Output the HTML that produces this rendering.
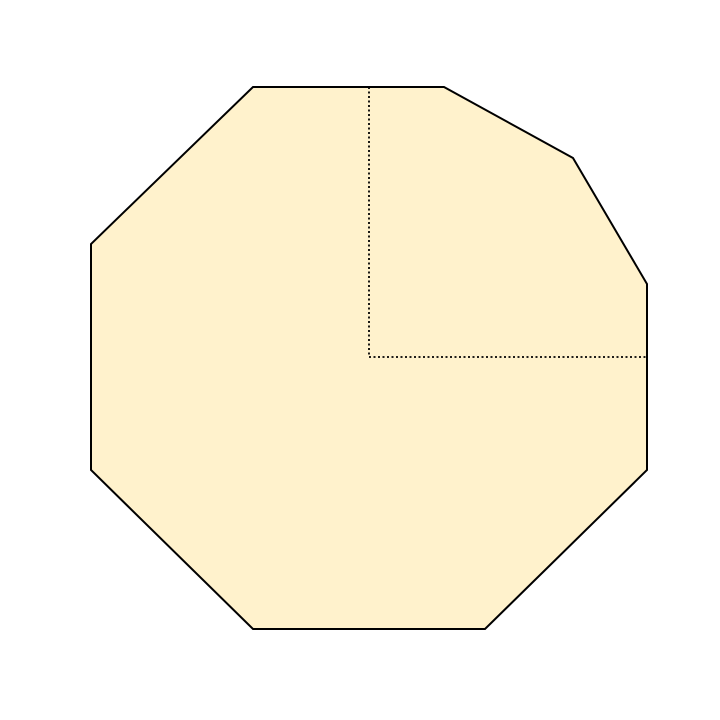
<!DOCTYPE html>
<html>
<head>
<meta charset="utf-8">
<style>
html,body{margin:0;padding:0;background:#fff;}
svg{display:block;}
</style>
</head>
<body>
<svg id="chart" width="720" height="720" viewBox="0 0 720 720"></svg>
<script>
// Shape vertices in data units (x right, y up), origin at the dotted-corner point
const vertexX = [-116, 75, 204, 278, 278, 116, -116, -278, -278];
const vertexY = [270, 270, 199, 73, -113, -272, -272, -113, 113];
// Dotted guide: from top edge down to origin, then right to edge
const guideX = [0, 0, 278];
const guideY = [270, 0, 0];

const originPx = 369, originPy = 357;
function sx(v){ return originPx + v; }
function sy(v){ return originPy - v; }

const NS = "http://www.w3.org/2000/svg";
const svg = document.getElementById('chart');

const poly = document.createElementNS(NS, 'polygon');


poly.setAttribute('points', vertexX.map((x,i)=>sx(x)+','+sy(vertexY[i])).join(' '));
poly.setAttribute('fill', '#fff2cc');
poly.setAttribute('stroke', '#000');
poly.setAttribute('stroke-width', '2');
poly.setAttribute('stroke-linejoin', 'miter');
svg.appendChild(poly);

const guide = document.createElementNS(NS, 'polyline');


guide.setAttribute('points', guideX.map((x,i)=>sx(x)+','+sy(guideY[i])).join(' '));
guide.setAttribute('fill', 'none');
guide.setAttribute('stroke', '#000');
guide.setAttribute('stroke-width', '1.8');
guide.setAttribute('stroke-dasharray', '2,2.5');
svg.appendChild(guide);
</script>
</body>
</html>
